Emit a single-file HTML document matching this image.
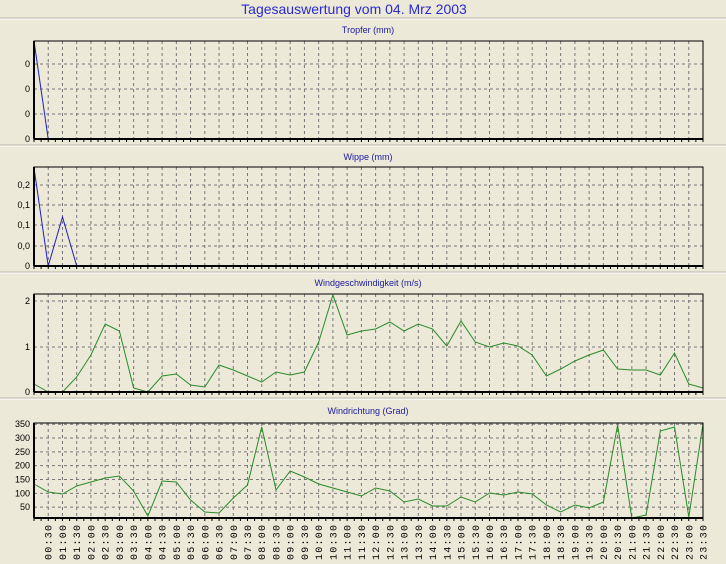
<!DOCTYPE html>
<html><head><meta charset="utf-8"><style>
html,body{margin:0;padding:0;background:#ece9d8;}
svg{display:block;font-family:"Liberation Sans",sans-serif;}
</style></head><body>
<svg id="s" width="726" height="564" xmlns="http://www.w3.org/2000/svg"></svg>
<script>
const s=document.getElementById('s');let h='';
const X0=34,X1=703,N=47,dx=(X1-X0)/N;
h+='<rect width="726" height="564" fill="#ece9d8"/>';
h+='<text x="354" y="14" font-size="14" fill="#2a2ad0" text-anchor="middle">Tagesauswertung vom 04. Mrz 2003</text>';
[18,145,272,398].forEach(y=>{h+=`<line x1="0" x2="726" y1="${y}" y2="${y}" stroke="#b8b5a5"/><line x1="0" x2="726" y1="${y+1}" y2="${y+1}" stroke="#fff"/>`});
function panel(title,ty,top,bot,grids,labels,pts,col){
 h+=`<text x="368" y="${ty}" font-size="9" fill="#1a1aa0" text-anchor="middle">${title}</text>`;
 for(let i=1;i<N;i++){const x=X0+i*dx;h+=`<line x1="${x}" x2="${x}" y1="${top}" y2="${bot}" stroke="#777" stroke-dasharray="3,3"/>`;}
 grids.forEach(g=>{h+=`<line x1="${X0}" x2="${X1}" y1="${g}" y2="${g}" stroke="#777" stroke-dasharray="3,3"/>`});
 labels.forEach(l=>{h+=`<text x="30" y="${l[0]+3}" font-size="9" fill="#000" text-anchor="end">${l[1]}</text>`});
 let d=pts.map(p=>`${(X0+p[0]*dx).toFixed(1)},${p[1]}`).join(' ');
 h+=`<polyline points="${d}" fill="none" stroke="${col}" stroke-width="1"/>`;
 h+=`<rect x="${X0}" y="${top}" width="${X1-X0}" height="${bot-top}" fill="none" stroke="#000" stroke-width="1"/>`;
 h+=`<line x1="${X0}" x2="${X1}" y1="${bot}" y2="${bot}" stroke="#000" stroke-width="2"/><line x1="${X0}" x2="${X0}" y1="${top}" y2="${bot}" stroke="#000" stroke-width="2"/>`;
 for(let i=0;i<=N*2;i++){const x=X0+i*dx/2;h+=`<line x1="${x}" x2="${x}" y1="${bot}" y2="${bot+3}" stroke="#000"/>`;}
}
panel('Tropfer (mm)',33,41,139,[64,89,114],[[64,'0'],[89,'0'],[114,'0'],[139,'0']],[[0,41],[1,139]],'#2020c0');
panel('Wippe (mm)',160,167,266,[185,205,225,246],[[185,'0,2'],[205,'0,1'],[225,'0,1'],[246,'0,0'],[266,'0']],[[0,168],[1,266],[2,217],[3,266]],'#2020c0');
const ws=[384,392,392,377,355,324,331,388,392,376,374,385,387,365,370,376,382,372,375,372,342,295,335,331,329,322,331,324,329,346,321,342,347,343,346,355,376,369,361,355,350,369,370,370,375,353,384,388];
panel('Windgeschwindigkeit (m/s)',286,294,392,[301,347],[[301,'2'],[347,'1'],[392,'0']],ws.map((v,i)=>[i,v]),'#2a8a2a');
const wd=[484,492,494,486,482,478,476,491,516,481,482,500,512,513,498,485,427,490,471,477,484,488,492,496,488,491,502,499,506,506,497,502,493,495,492,494,505,512,505,508,502,425,518,515,431,427,517,424];
const g4=[];const l4=[];for(let v=50;v<=350;v+=50){const y=521-v*13.83/50;g4.push(y);l4.push([y,v]);}
panel('Windrichtung (Grad)',414,423,518,g4,l4,wd.map((v,i)=>[i,v]),'#2a8a2a');
for(let i=1;i<=N;i++){const x=X0+i*dx;const m=i*30;const t=String(Math.floor(m/60)).padStart(2,'0')+':'+String(m%60).padStart(2,'0');
 h+=`<text transform="translate(${x+3.5},525) rotate(-90)" font-size="10" fill="#000" text-anchor="end" font-family="Liberation Mono,monospace" textLength="35">${t}</text>`;}
s.innerHTML=h;
</script>
</body></html>
